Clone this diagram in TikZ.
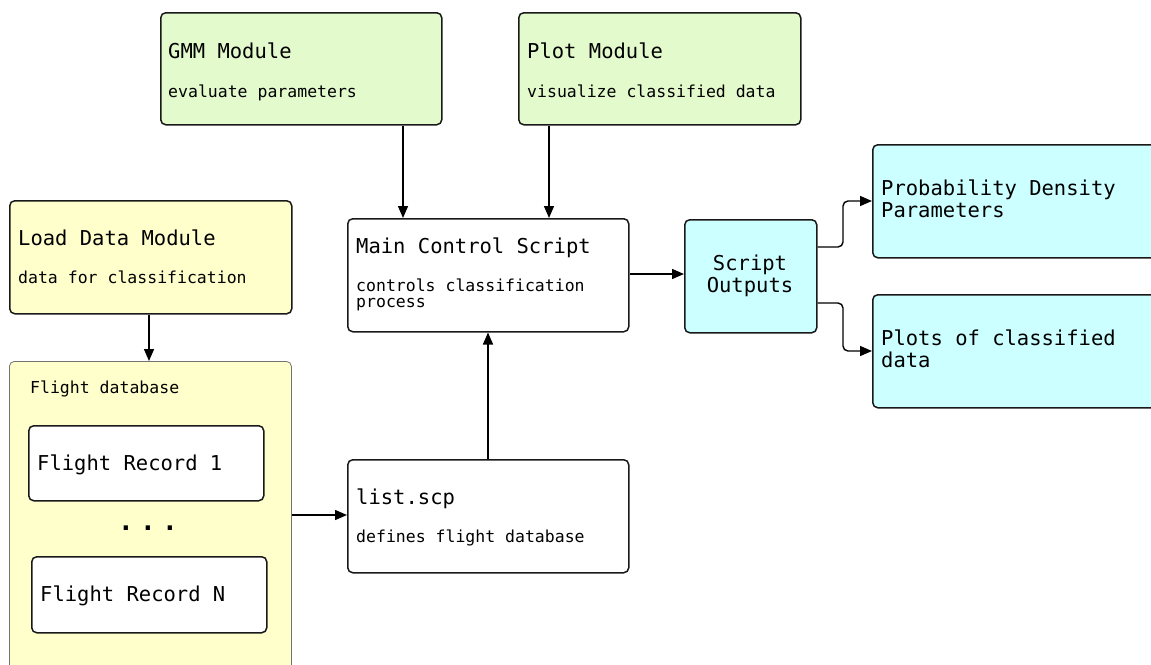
\documentclass[tikz,border=0pt]{standalone}
\usepackage{fontspec}
\setmonofont{DejaVu Sans Mono}
\usetikzlibrary{arrows.meta}
\definecolor{gfill}{RGB}{227,250,205}
\definecolor{yfill}{RGB}{255,255,204}
\definecolor{cfill}{RGB}{204,255,255}
\definecolor{edge}{RGB}{25,25,25}
\newcommand{\ttlfont}{\ttfamily\fontsize{20.5}{21.5}\selectfont}
\newcommand{\sbtfont}{\ttfamily\fontsize{16.5}{15.5}\selectfont}
\begin{document}
\begin{tikzpicture}[x=1pt,y=-1pt,
  box/.style={draw=edge,line width=1.5pt,rounded corners=5pt,inner sep=0pt,anchor=north west},
  ttl/.style={font=\ttlfont,inner sep=0pt,anchor=base west,text=black},
  sbt/.style={font=\sbtfont,inner sep=0pt,anchor=base west,text=black,align=left},
  arr/.style={-{Triangle[length=12pt,width=10pt]},line width=1.4pt,draw=black},
]
\useasboundingbox (0,0) rectangle (1151,664);
% boxes
\node[box,fill=gfill,minimum width=281pt,minimum height=112pt] (gmm) at (160,12) {};
\node[box,fill=gfill,minimum width=282pt,minimum height=112pt] (plot) at (518,12) {};
\node[box,fill=yfill,minimum width=282pt,minimum height=113pt] (load) at (9,200) {};
\node[box,fill=yfill,draw=black!55,line width=0.8pt,minimum width=282pt,minimum height=330pt] (db) at (9,361) {};
\node[box,fill=white,minimum width=235pt,minimum height=75pt] (rec1) at (28,425) {};
\node[box,fill=white,minimum width=235pt,minimum height=76pt] (recn) at (31,556) {};
\node[box,fill=white,minimum width=281pt,minimum height=113pt] (main) at (347,218) {};
\node[box,fill=white,minimum width=281pt,minimum height=113pt] (list) at (347,459) {};
\node[box,fill=cfill,minimum width=132pt,minimum height=113pt] (out) at (684,219) {};
\node[box,fill=cfill,minimum width=290pt,minimum height=113pt] (pdp) at (872,144) {};
\node[box,fill=cfill,minimum width=290pt,minimum height=113pt] (pcd) at (872,294) {};
% texts
\node[ttl] (gmmt) at (168,58) {GMM Module};
\node[sbt] (gmms) at (168,97) {evaluate parameters};
\node[ttl] (plott) at (527,58) {Plot Module};
\node[sbt] (plots) at (527,97) {visualize classified data};
\node[ttl] (loadt) at (18,245) {Load Data Module};
\node[sbt] (loads) at (18,283) {data for classification};
\node[sbt] (dbt) at (30,393) {Flight database};
\node[ttl] (rec1t) at (37,470) {Flight Record 1};
\node[ttl] (recnt) at (40,601) {Flight Record N};
\node[font=\ttfamily\bfseries\fontsize{26}{26}\selectfont,inner sep=0pt,anchor=base] (dots) at (148,530) {.\kern6.4pt.\kern6.4pt.};
\node[ttl] (maint) at (356,253) {Main Control Script};
\node[sbt] (mains) at (356,307) {controls classification\\process};
\node[ttl] (listt) at (356,504) {list.scp};
\node[sbt] (lists) at (356,542) {defines flight database};
\node[font=\ttlfont,inner sep=0pt,align=center,anchor=base] (outt) at (750,292) {Script\\Outputs};
\node[ttl,align=left] (pdpt) at (881,217) {Probability Density\\Parameters};
\node[ttl,align=left] (pcdt) at (881,367) {Plots of classified\\data};
% connectors
\draw[arr] (gmm.south -| 403,0) -- (main.north -| 403,0);
\draw[arr] (plot.south -| 549,0) -- (main.north -| 549,0);
\draw[arr] (load.south -| 149,0) -- (db.north -| 149,0);
\draw[arr] (db.east |- 0,515) -- (list.west |- 0,515);
\draw[arr] (list.north -| 488,0) -- (main.south -| 488,0);
\draw[arr] (main.east |- 0,274) -- (out.west |- 0,274);
\draw[arr,rounded corners=5pt] (out.east |- 0,247) -- (843,247) -- (843,201) -- (pdp.west |- 0,201);
\draw[arr,rounded corners=5pt] (out.east |- 0,303) -- (843,303) -- (843,351) -- (pcd.west |- 0,351);
\end{tikzpicture}
\end{document}
